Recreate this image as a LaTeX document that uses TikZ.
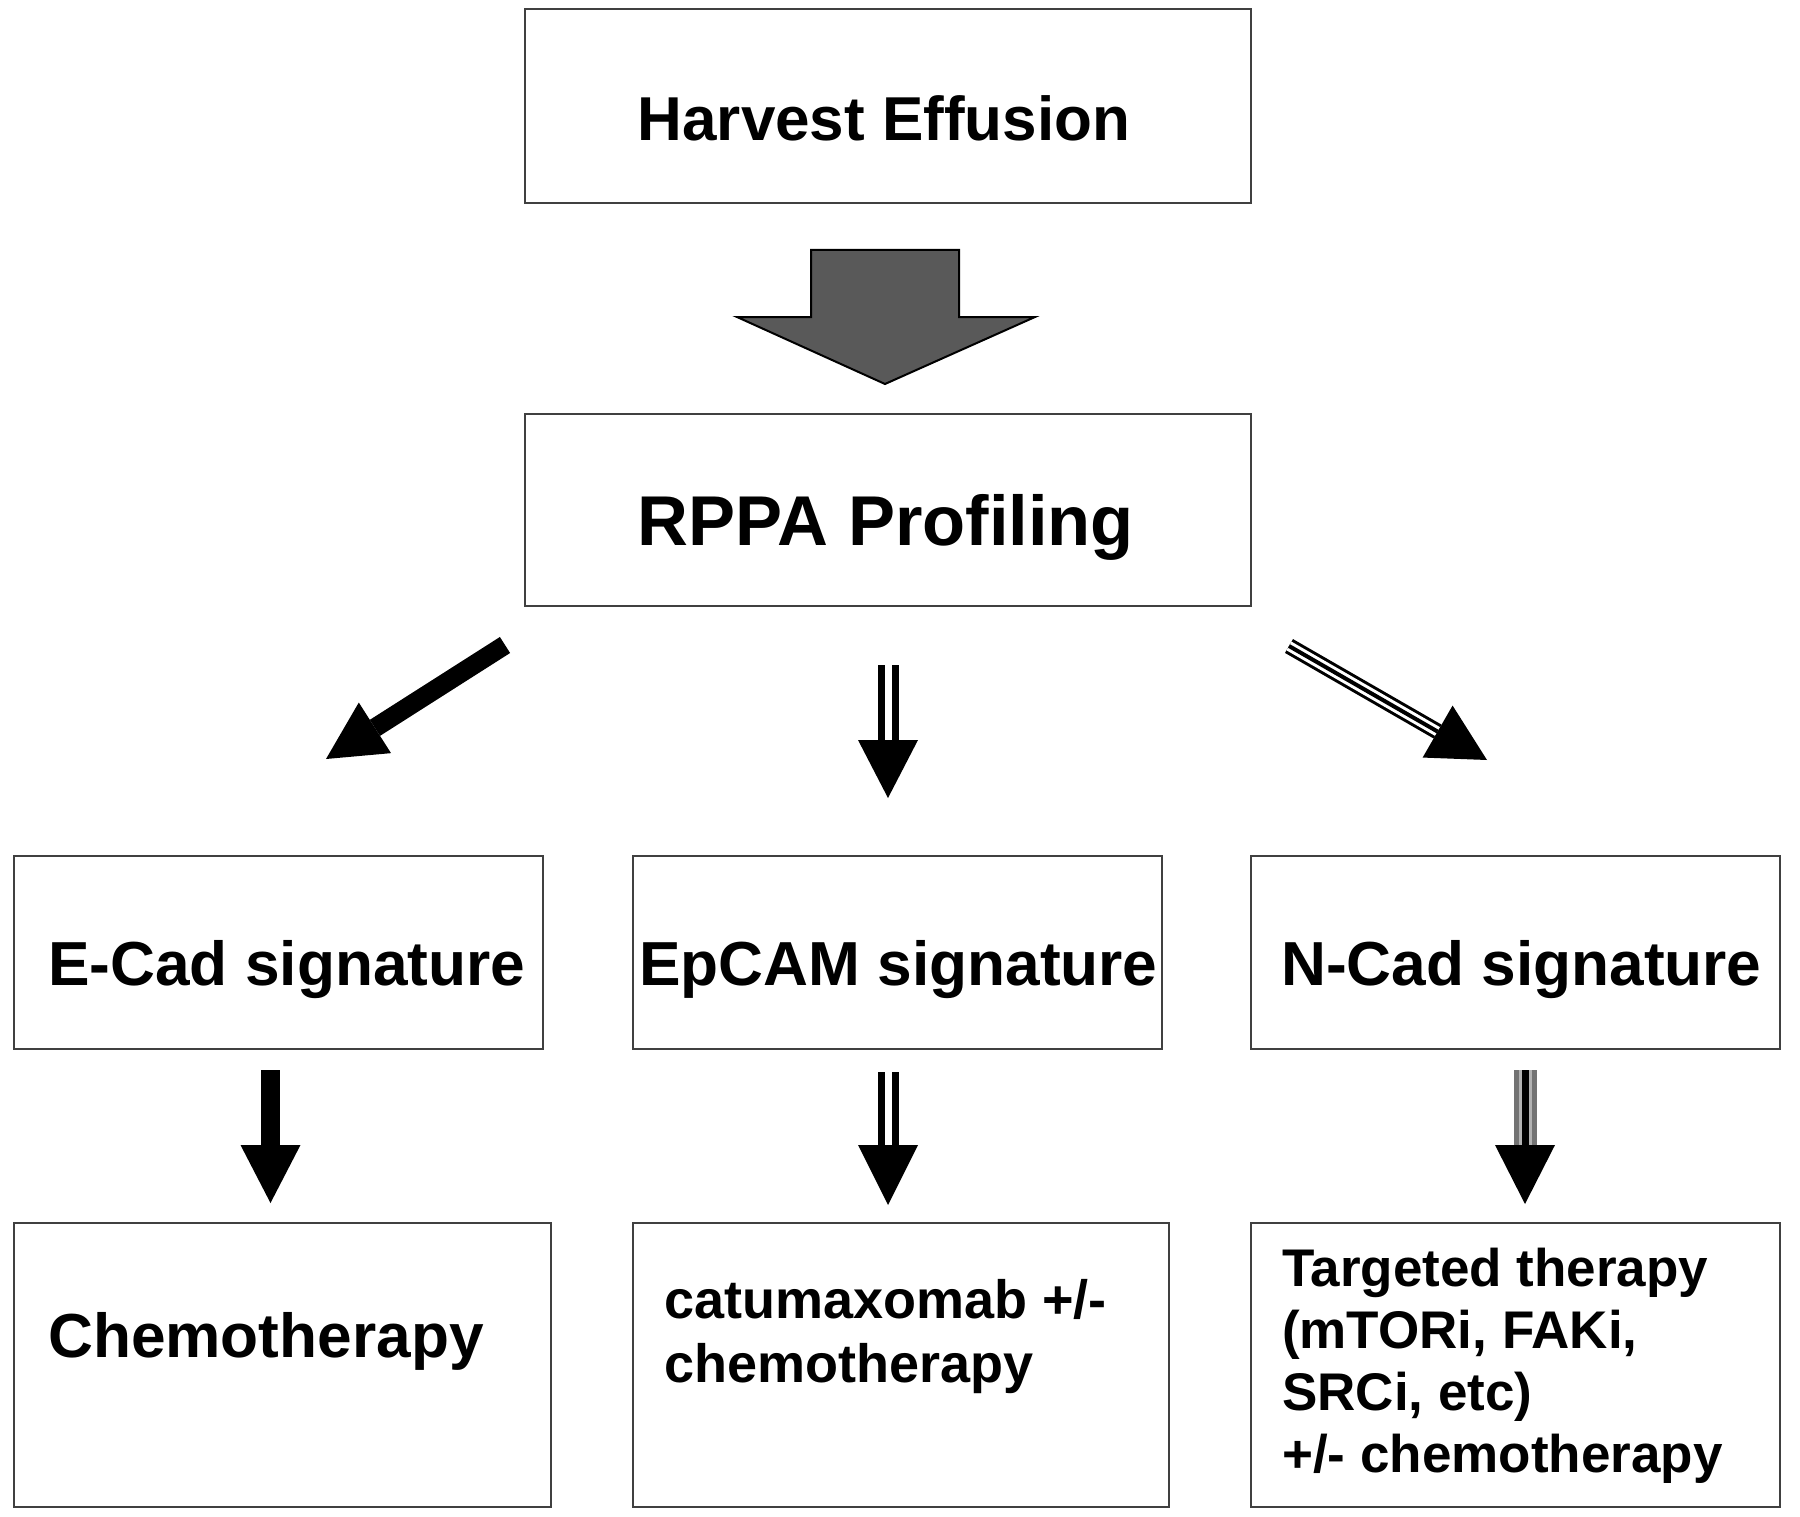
\documentclass[tikz,border=0pt]{standalone}
\usepackage{fontspec}
\setmainfont{Liberation Sans}
\usetikzlibrary{calc}
\tikzset{
  box/.style={draw=black!75, line width=2.5pt, inner sep=0pt, outer sep=0pt},
  lbl/.style={inner sep=0pt, anchor=base west, font=\bfseries\fontsize{#1}{#1}\selectfont},
  clbl/.style={inner sep=0pt, anchor=base, font=\bfseries\fontsize{#1}{#1}\selectfont},
}
\newcommand\arrowhead[2]{%
  \fill ($(#1)!30pt!90:(#2)$) -- (#2) -- ($(#1)!30pt!-90:(#2)$) -- cycle;}
\begin{document}
\begin{tikzpicture}[x=1pt,y=-1pt]
\useasboundingbox (0,0) rectangle (1800,1517);
\fill[white] (0,0) rectangle (1800,1517);

% boxes
\node[box, minimum width=726pt, minimum height=194pt] (harvest) at (888,106) {};
\node[box, minimum width=726pt, minimum height=192pt] (rppa) at (888,510) {};
\node[box, minimum width=529pt, minimum height=193pt] (ecad) at (278.5,952.5) {};
\node[box, minimum width=529pt, minimum height=193pt] (epcam) at (897.5,952.5) {};
\node[box, minimum width=529pt, minimum height=193pt] (ncad) at (1515.5,952.5) {};
\node[box, minimum width=537pt, minimum height=284pt] (chemo) at (282.5,1365) {};
\node[box, minimum width=536pt, minimum height=284pt] (catu) at (901,1365) {};
\node[box, minimum width=529pt, minimum height=284pt] (targ) at (1515.5,1365) {};

% texts
\node[clbl=62] (tharvest) at (884,141) {Harvest Effusion};
\node[clbl=70.5] (trppa) at (886,545) {RPPA Profiling};
\node[lbl=62.2] (tecad) at (48,985) {E-Cad signature};
\node[lbl=62.2] (tepcam) at (639,985) {EpCAM signature};
\node[lbl=62.2] (tncad) at (1281,985) {N-Cad signature};
\node[lbl=62.2] (tchemo) at (48,1357) {Chemotherapy};
\node[lbl=54] (tcatu1) at (664,1318) {catumaxomab +/-};
\node[lbl=54] (tcatu2) at (664,1382) {chemotherapy};
\node[lbl=53] (ttarg1) at (1282,1286) {Targeted therapy};
\node[lbl=53] (ttarg2) at (1282,1348) {(mTORi, FAKi,};
\node[lbl=53] (ttarg3) at (1282,1410) {SRCi, etc)};
\node[lbl=53] (ttarg4) at (1282,1472) {+/- chemotherapy};

% big grey arrow
\draw[fill=black!65, line width=2pt, line join=miter]
  (811,250) -- (959,250) -- (959,317) -- (1035,317) -- (885,384) -- (737,317) -- (811,317) -- cycle;

% arrow 1: solid diagonal left
\coordinate (a1s) at (505,645); \coordinate (a1t) at (326,759);
\coordinate (a1b) at ($(a1t)!58pt!(a1s)$);
\draw[line width=19pt] (a1s) -- (a1b);
\arrowhead{a1b}{a1t}

% arrow 2: double middle
\coordinate (a2s) at (888,665); \coordinate (a2t) at (888,798);
\coordinate (a2b) at ($(a2t)!58pt!(a2s)$);
\draw[line width=21pt] (a2s) -- (a2b);
\draw[line width=7pt, white] ($(a2s)+(0,-1)$) -- (a2b);
\arrowhead{a2b}{a2t}

% arrow 3: triple diagonal right
\coordinate (a3s) at (1289,646); \coordinate (a3t) at (1487,760);
\coordinate (a3b) at ($(a3t)!57pt!(a3s)$);
\draw[line width=16pt] (a3s) -- (a3b);
\draw[line width=10pt, white] (a3s) -- (a3b);
\draw[line width=4pt] (a3s) -- (a3b);
\arrowhead{a3b}{a3t}

% arrow 4: solid down left
\coordinate (a4s) at (270.5,1070); \coordinate (a4t) at (270.5,1203);
\coordinate (a4b) at ($(a4t)!58pt!(a4s)$);
\draw[line width=19pt] (a4s) -- (a4b);
\arrowhead{a4b}{a4t}

% arrow 5: double down middle
\coordinate (a5s) at (888,1072); \coordinate (a5t) at (888,1205);
\coordinate (a5b) at ($(a5t)!60pt!(a5s)$);
\draw[line width=21pt] (a5s) -- (a5b);
\draw[line width=7pt, white] ($(a5s)+(0,-1)$) -- (a5b);
\arrowhead{a5b}{a5t}

% arrow 6: triple (grey) down right
\coordinate (a6s) at (1525,1070); \coordinate (a6t) at (1525,1204);
\coordinate (a6b) at ($(a6t)!59pt!(a6s)$);
\draw[line width=23pt, black!55] (a6s) -- (a6b);
\draw[line width=13pt, black!30] (a6s) -- (a6b);
\draw[line width=7pt, black] (a6s) -- (a6b);
\arrowhead{a6b}{a6t}
\end{tikzpicture}
\end{document}
